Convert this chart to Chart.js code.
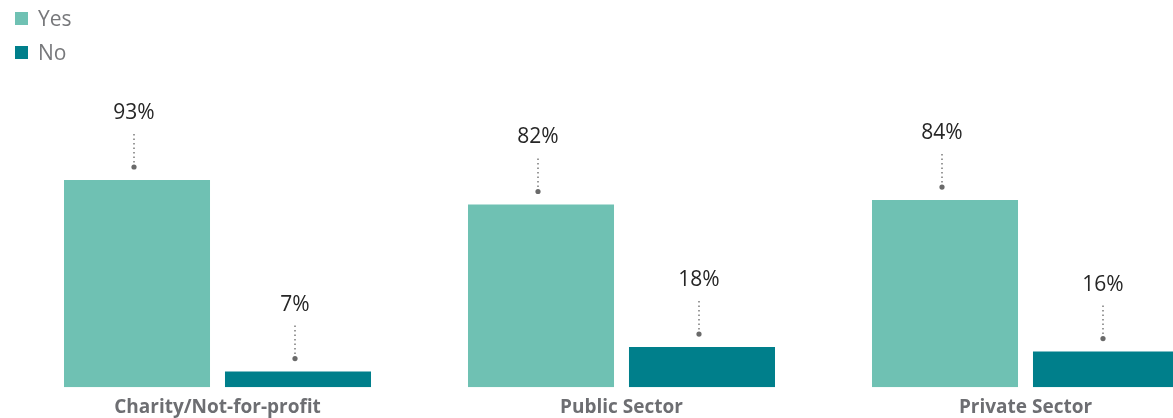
<!DOCTYPE html>
<html>
<head>
<meta charset="utf-8">
<script src="https://cdn.jsdelivr.net/npm/chart.js@4"></script>
<style>
  html,body{margin:0;padding:0;background:#fff;overflow:hidden;width:1173px;height:418px;}
  #wrap{position:absolute;left:0;top:0;width:1240px;height:427px;}
  #legend{position:absolute;left:15px;top:1px;font-family:"Open Sans",sans-serif;font-size:21px;color:#77787b;}
  #legend .item{display:flex;align-items:center;height:34px;}
  #legend .sw{width:13px;height:13px;margin-right:10px;}
</style>
</head>
<body>
<div id="wrap"><canvas id="c" width="1240" height="427"></canvas></div>
<div id="legend"></div>
<script>
const categories = ["Charity/Not-for-profit", "Public Sector", "Private Sector"];
const seriesNames = ["Yes", "No"];
const yesValues = [93, 82, 84];
const noValues = [7, 18, 16];
const seriesColors = ["#6fc1b3", "#007f8b"];

const legendEl = document.getElementById('legend');
seriesNames.forEach((n, i) => {
  const d = document.createElement('div');
  d.className = 'item';
  d.innerHTML = '<span class="sw" style="background:' + seriesColors[i] + '"></span><span>' + n + '</span>';
  legendEl.appendChild(d);
});

const labelPlugin = {
  id: 'valueLabels',
  afterDatasetsDraw(chart) {
    const ctx = chart.ctx;
    chart.data.datasets.forEach((ds, di) => {
      const meta = chart.getDatasetMeta(di);
      meta.data.forEach((bar, i) => {
        const x = bar.x - 3;
        const top = bar.y;
        ctx.save();
        ctx.strokeStyle = '#7a7a7a';
        ctx.lineWidth = 1.5;
        ctx.setLineDash([1.5, 3]);
        ctx.beginPath();
        ctx.moveTo(x, top - 13);
        ctx.lineTo(x, top - 48);
        ctx.stroke();
        ctx.setLineDash([]);
        ctx.fillStyle = '#6a6a6a';
        ctx.beginPath();
        ctx.arc(x, top - 13, 2.6, 0, Math.PI * 2);
        ctx.fill();
        ctx.fillStyle = '#262626';
        ctx.font = '21px "Open Sans", sans-serif';
        ctx.textAlign = 'center';
        ctx.textBaseline = 'middle';
        ctx.fillText(ds.data[i] + '%', x, top - 67);
        ctx.restore();
      });
    });
  }
};

new Chart(document.getElementById('c'), {
  type: 'bar',
  data: {
    labels: categories,
    datasets: [
      { label: seriesNames[0], data: yesValues, backgroundColor: seriesColors[0] },
      { label: seriesNames[1], data: noValues, backgroundColor: seriesColors[1] }
    ]
  },
  options: {
    responsive: false,
    animation: false,
    devicePixelRatio: 1,
    categoryPercentage: 0.797,
    barPercentage: 0.907,
    layout: { padding: { left: 15.5, right: 12.5, top: 164.4, bottom: 0 } },
    plugins: { legend: { display: false }, tooltip: { enabled: false } },
    scales: {
      x: {
        grid: { display: false, drawTicks: false },
        border: { display: false },
        ticks: {
          color: '#6d6e72',
          font: { family: '"Open Sans", sans-serif', size: 19, weight: 'bold' },
          padding: 8.5
        }
      },
      y: {
        display: false,
        min: 0,
        max: 100
      }
    }
  },
  plugins: [labelPlugin]
});
</script>
</body>
</html>
